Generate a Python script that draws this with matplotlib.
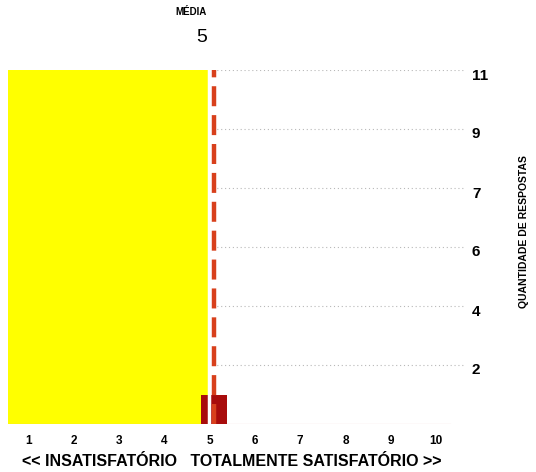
import matplotlib.pyplot as plt
import matplotlib.transforms as mtransforms
import numpy as np

plt.rcParams['font.family'] = ['Liberation Sans', 'DejaVu Sans']

# survey scores and number of answers per score
scores = [1, 2, 3, 4, 5, 6, 7, 8, 9, 10]
answers = [0, 0, 0, 0, 1, 0, 0, 0, 0, 0]
mean_score = 5
# the right-hand scale is not linear: each gridline carries one of these labels
scale_labels = [2, 4, 6, 7, 9, 11]

levels = np.arange(len(scale_labels) + 1)
scale_values = [0] + scale_labels

fig = plt.figure(figsize=(5.36, 4.72), dpi=100)
ax = fig.add_axes([8 / 536, 48 / 472, 457 / 536, 354 / 472])
x_left = 1 - 21 / 45.2
x_right = 1 + 436 / 45.2
ax.set_xlim(x_left, x_right)
ax.set_ylim(0, levels[-1])
for s in ax.spines.values():
    s.set_visible(False)

shift = 0.09  # bars and mean line sit a bit right of the tick
zone_end = mean_score + shift - 0.11

# yellow zone up to the mean
ax.axvspan(x_left, zone_end, color='#ffff00', zorder=1, lw=0)

# dotted gridlines right of the zone
ax.hlines(levels[1:], zone_end, x_right, colors='#b8b8b8', linestyles=(0, (1, 2.5)),
          lw=0.8, zorder=0)

# baseline
ax.plot([x_left, 1 + 421 / 45.2], [0, 0], color='#e89a9a', lw=0.8, zorder=2)

# bars, mapped onto the gridline scale
heights = np.interp(answers, scale_values, levels)
bar_x = np.array(scores) + shift
ax.bar(bar_x, heights, width=0.58, color='#a80c0c', zorder=3, lw=0)

# mean line
ax.axvline(zone_end, color='white', lw=2.5, zorder=4)
ax.axvline(mean_score + shift, color='#d8401c', lw=3.2, ls=(0, (4.5, 2)), zorder=5)

# ticks
ax.set_xticks(scores)
ax.set_xticklabels([str(s) for s in scores], fontsize=8.5, fontweight='bold')
ax.tick_params(axis='x', length=0, pad=8)
ax.yaxis.tick_right()
ax.set_yticks(levels[1:])
ax.set_yticklabels([str(v) for v in scale_labels], fontsize=11, fontweight='bold')
ax.tick_params(axis='y', length=0, pad=5)
offset = mtransforms.ScaledTranslation(0, -4 / 100, fig.dpi_scale_trans)
for lab in ax.get_yticklabels():
    lab.set_transform(lab.get_transform() + offset)

# mean annotation
trans = mtransforms.blended_transform_factory(ax.transData, fig.transFigure)
ax.text(mean_score - 0.06, 1 - 12 / 472, 'MÉDIA', transform=trans, ha='right',
        va='center', fontsize=7, fontweight='bold')
ax.text(mean_score - 0.06, 1 - 38 / 472, str(mean_score), transform=trans, ha='right',
        va='center', fontsize=14)

fig.text(232 / 536, 1 - 461 / 472, '<< INSATISFATÓRIO   TOTALMENTE SATISFATÓRIO >>',
         ha='center', va='center', fontsize=11.5, fontweight='bold')
fig.text(524 / 536, 1 - 232 / 472, 'QUANTIDADE DE RESPOSTAS', rotation=90,
         ha='center', va='center', fontsize=7.5, fontweight='bold')

fig.savefig('out.png', dpi=100)
